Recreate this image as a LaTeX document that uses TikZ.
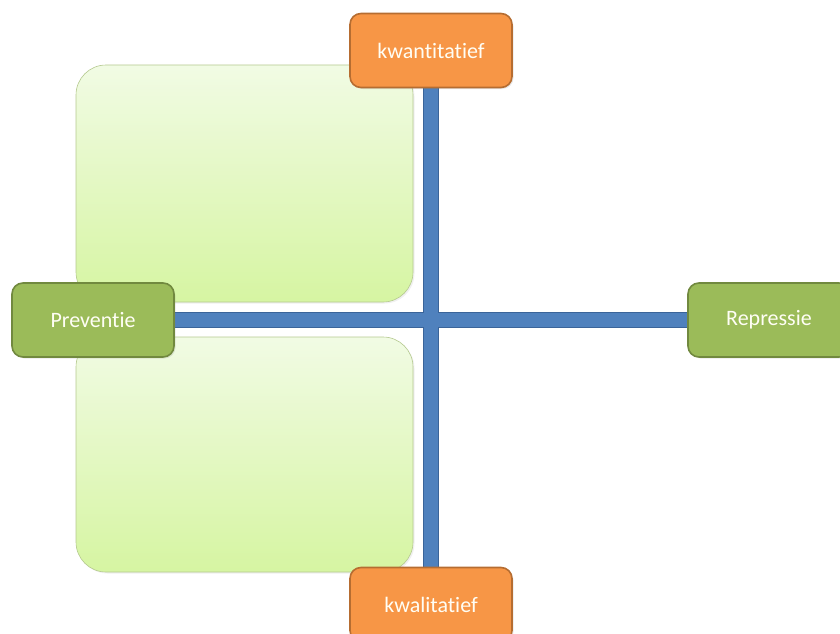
\documentclass[tikz,border=0pt]{standalone}
\usepackage{fontspec}
\setmainfont[Ligatures=NoCommon]{Carlito}
\usetikzlibrary{backgrounds,shadows}
\definecolor{barblue}{HTML}{4F81BD}
\definecolor{barrand}{HTML}{3A6499}
\definecolor{oranje}{HTML}{F79646}
\definecolor{oranjerand}{HTML}{B66D31}
\definecolor{groen}{HTML}{9BBB59}
\definecolor{groenrand}{HTML}{71893F}
\definecolor{lichtboven}{HTML}{F1FBE4}
\definecolor{lichtonder}{HTML}{D6F5A2}
\definecolor{lichtrand}{HTML}{B5C98F}
\tikzset{
  as/.style={draw=#1rand, fill=#1, line width=1.6pt, rounded corners=11pt,
    minimum width=162pt, minimum height=74pt, text=white!96!yellow,
    font=\fontsize{22}{25}\selectfont,
    drop shadow={opacity=0.18, shadow xshift=1.5pt, shadow yshift=-1.5pt}},
  balk/.style={draw=barrand, line width=1.2pt, double=barblue, double distance=14pt},
  vak/.style={draw=lichtrand, line width=0.6pt, rounded corners=30pt,
    top color=lichtboven, bottom color=lichtonder,
    drop shadow={opacity=0.12, shadow xshift=1.5pt, shadow yshift=-1.5pt}}
}
\begin{document}
\begin{tikzpicture}[x=1pt,y=1pt]
\useasboundingbox (0,0) rectangle (840,-634);
\node[as=oranje] (kwan) at (431,-50.5) {kwantitatief};
\node[as=oranje] (kwal) at (431,-604.5) {kwalitatief};
\node[as=groen] (prev) at (93,-320) {Preventie};
\node[as=groen] (rep) at (769,-320) {Repressie};
\begin{scope}[on background layer]
  \draw[vak] (76,-65) rectangle (413,-302);
  \draw[vak] (76,-337) rectangle (413,-572);
  \draw[balk] (prev) -- (rep) (kwan) -- (kwal);
\end{scope}
\end{tikzpicture}
\end{document}
